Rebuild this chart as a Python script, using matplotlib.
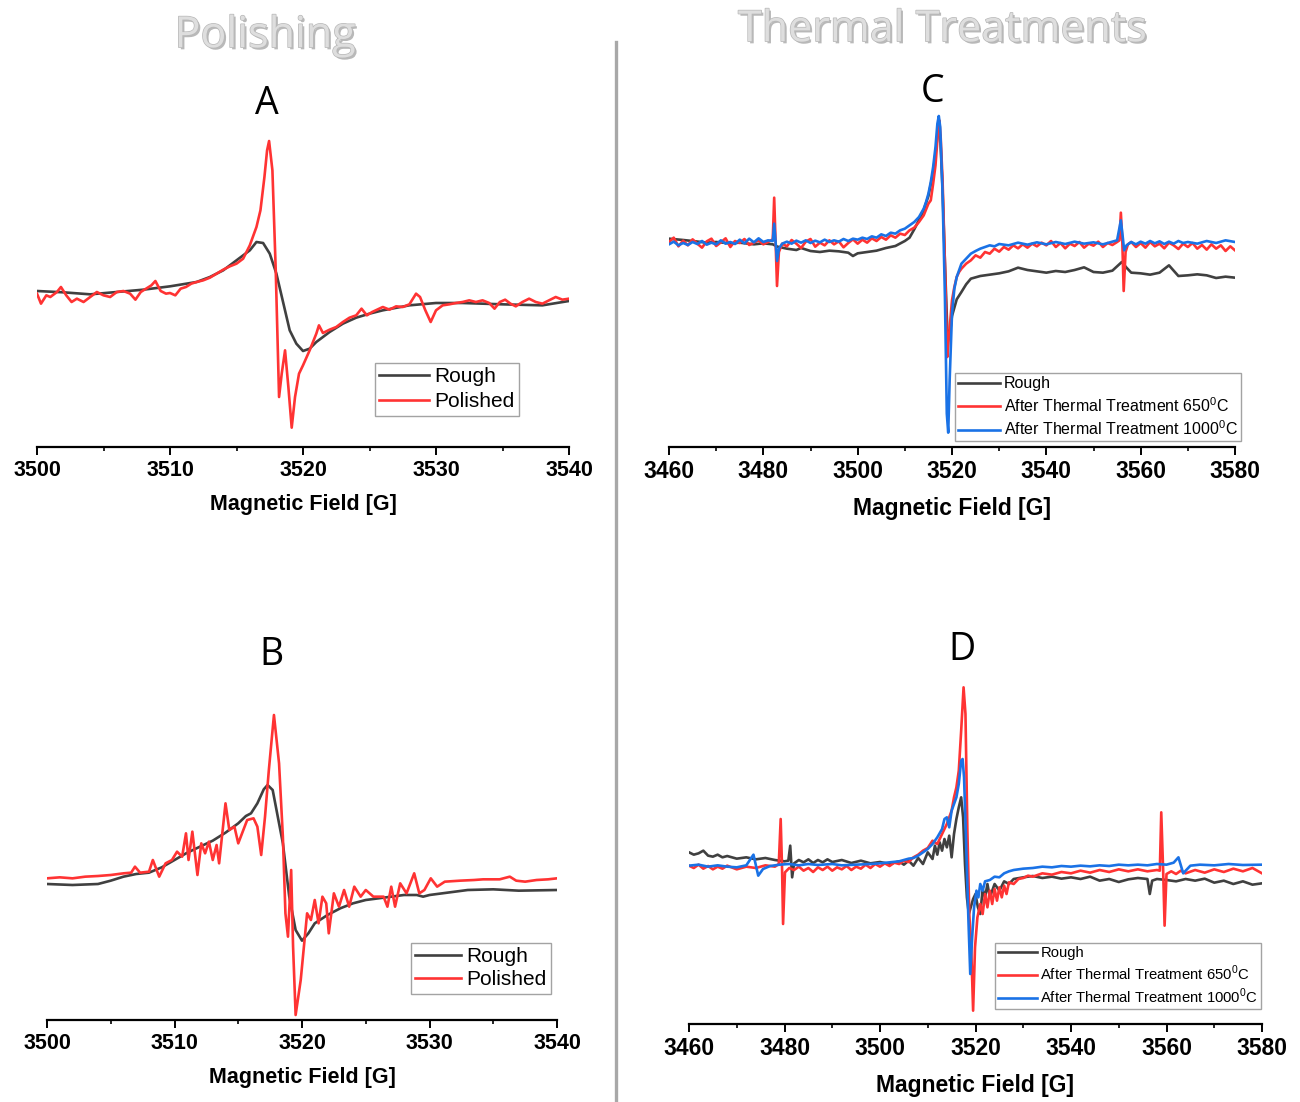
import matplotlib
matplotlib.use("Agg")
import matplotlib.pyplot as plt
import matplotlib.patheffects as pe
from matplotlib.lines import Line2D
from matplotlib.ticker import MultipleLocator

plt.rcParams['font.family'] = ['Liberation Sans', 'DejaVu Sans']
plt.rcParams['mathtext.fontset'] = 'custom'
plt.rcParams['mathtext.rm'] = 'Liberation Sans'

W, H = 1300, 1102

# ---- data (arbitrary intensity units) ----
# panel A
a_rough_x = [3500, 3502, 3504, 3506, 3508, 3510, 3512, 3513, 3514, 3515, 3516, 3516.5,
             3517, 3517.5, 3518, 3518.5, 3519, 3519.5, 3520, 3520.5, 3521, 3522, 3523,
             3524, 3525, 3526, 3528, 3530, 3532, 3535, 3538, 3540]
a_rough_y = [46.8, 46.4, 45.8, 46.5, 47.2, 48.2, 49.5, 51.0, 53.0, 56.0, 59.0, 61.5,
             61.2, 58.0, 52.0, 43.5, 35.0, 31.0, 28.8, 29.5, 31.5, 34.5, 37.0,
             38.8, 40.0, 41.0, 42.5, 43.2, 43.2, 42.8, 42.5, 43.8]
a_pol_x = [3500, 3500.3, 3500.7, 3501, 3501.5, 3501.8, 3502.2, 3502.6, 3503, 3503.5,
           3504, 3504.5, 3505, 3505.5, 3506, 3506.5, 3507, 3507.4, 3507.8, 3508.2,
           3508.6, 3508.9, 3509.3, 3509.7, 3510, 3510.4, 3510.8, 3511.2, 3511.6, 3512,
           3512.5, 3513, 3513.5, 3514, 3514.5, 3515, 3515.5, 3516, 3516.5, 3516.8,
           3517.1, 3517.3, 3517.45, 3517.7, 3517.95, 3518.2, 3518.4, 3518.65, 3518.9,
           3519.15, 3519.4, 3519.7, 3520, 3520.5, 3521, 3521.2, 3521.5, 3522, 3522.5,
           3523, 3523.5, 3524, 3524.4, 3524.8, 3525.2, 3526, 3526.5, 3527, 3527.5,
           3528, 3528.5, 3528.8, 3529.2, 3529.6, 3530, 3530.5, 3531, 3531.5, 3532,
           3532.5, 3533, 3533.5, 3534, 3534.4, 3534.8, 3535.2, 3535.6, 3536, 3536.5,
           3537, 3537.5, 3538, 3538.5, 3539, 3539.5, 3540]
a_pol_y = [46.0, 43.0, 45.5, 45.0, 46.5, 48.0, 45.5, 43.5, 44.5, 43.5,
           45.0, 46.5, 45.5, 45.0, 46.5, 46.8, 46.0, 44.2, 46.5, 47.5,
           48.5, 49.8, 46.8, 46.0, 46.2, 45.5, 47.5, 48.0, 49.0, 49.5,
           50.0, 50.8, 52.0, 53.2, 54.2, 55.0, 56.5, 60.5, 66.0, 71.0,
           81.0, 89.0, 91.8, 83.0, 53.0, 15.0, 22.0, 29.0, 18.0,
           5.8, 15.0, 22.0, 24.5, 29.0, 34.0, 36.5, 34.2, 35.2, 36.0,
           37.5, 38.8, 39.5, 41.5, 39.5, 40.5, 42.0, 41.2, 42.2, 42.0,
           42.8, 46.0, 45.0, 41.0, 37.5, 41.0, 42.5, 42.8, 43.2, 43.5,
           44.0, 43.5, 44.0, 43.2, 41.5, 43.5, 44.2, 43.0, 42.2, 43.5,
           44.5, 43.5, 43.0, 44.0, 45.0, 44.2, 44.5]

# panel B
b_rough_x = [3500, 3502, 3504, 3505, 3506, 3507, 3508, 3509, 3510, 3511, 3512, 3513,
             3514, 3515, 3515.6, 3516, 3516.5, 3517, 3517.3, 3517.7, 3518, 3518.5, 3519,
             3519.5, 3520, 3520.5, 3521, 3522, 3523, 3524, 3525, 3526, 3527, 3528,
             3529, 3529.5, 3530, 3531, 3532, 3533, 3535, 3537, 3540]
b_rough_y = [40.8, 40.5, 40.8, 41.8, 43.0, 43.8, 44.2, 45.8, 48.0, 50.2, 52.0, 53.8,
             56.2, 59.0, 61.2, 62.0, 65.0, 69.2, 70.5, 69.0, 63.0, 53.0, 37.0,
             27.0, 23.8, 26.0, 29.0, 31.5, 33.5, 35.0, 36.0, 36.5, 37.0, 37.5,
             37.5, 37.0, 37.5, 38.0, 38.5, 39.0, 39.2, 38.8, 39.0]
b_pol_x = [3500, 3501, 3502, 3503, 3504, 3505, 3506, 3506.6, 3506.9, 3507.3, 3508,
           3508.3, 3508.8, 3509.3, 3509.8, 3510.2, 3510.6, 3510.9, 3511.1, 3511.4,
           3511.8, 3512.1, 3512.4, 3512.7, 3513.0, 3513.3, 3513.5, 3514.0, 3514.3,
           3514.7, 3515.0, 3515.3, 3515.7, 3516.2, 3516.5, 3516.8, 3517.1, 3517.4,
           3517.8, 3518.2, 3518.5, 3518.7, 3518.9, 3519.15, 3519.3, 3519.5, 3519.9,
           3520.4, 3520.7, 3521.0, 3521.3, 3521.6, 3521.9, 3522.1, 3522.5, 3522.9,
           3523.3, 3523.7, 3524.1, 3524.6, 3525.0, 3525.6, 3526.4, 3526.7, 3527.0,
           3527.3, 3527.7, 3528.2, 3528.8, 3529.2, 3529.6, 3530.1, 3530.6, 3531.2,
           3532.4, 3533.5, 3534.2, 3535.5, 3536.3, 3536.8, 3537.5, 3538.4, 3539.3, 3540]
b_pol_y = [42.5, 42.8, 42.5, 43.0, 43.2, 43.5, 44.0, 44.2, 46.0, 44.2, 44.5,
           48.0, 43.0, 47.0, 48.0, 50.5, 49.0, 56.0, 48.0, 56.5,
           43.5, 53.0, 50.0, 53.5, 48.0, 52.5, 47.0, 65.0, 57.0,
           58.0, 53.0, 56.0, 60.0, 60.5, 58.0, 49.5, 61.0, 75.0,
           91.5, 77.0, 55.0, 32.0, 25.0, 45.0, 22.0, 1.5, 12.0,
           32.0, 30.0, 36.0, 29.0, 37.0, 35.0, 26.0, 38.0, 34.0,
           39.0, 34.0, 40.0, 37.0, 39.0, 37.0, 37.0, 34.0, 40.0,
           34.0, 41.0, 38.0, 44.0, 38.0, 39.0, 42.5, 40.0, 41.5,
           41.8, 42.0, 42.2, 42.2, 43.0, 41.8, 41.5, 42.0, 42.2, 42.5]

# panel C
c_rough_x = [3460, 3463, 3465, 3468, 3470, 3473, 3475, 3478, 3480, 3482, 3483, 3485,
             3487, 3488, 3490, 3492, 3494, 3496, 3498, 3499, 3500, 3502, 3504, 3506,
             3508, 3510, 3511, 3512, 3513, 3514, 3515, 3516, 3516.6, 3517.1, 3517.5,
             3518, 3518.5, 3519, 3519.5, 3520, 3521, 3522, 3523, 3524, 3526, 3528,
             3530, 3532, 3534, 3536, 3538, 3540, 3542, 3544, 3546, 3548, 3550, 3552,
             3554, 3556, 3557, 3558, 3560, 3562, 3564, 3566, 3568, 3570, 3572, 3574,
             3576, 3578, 3580]
c_rough_y = [62.5, 62.1, 61.8, 61.3, 61.5, 61.1, 61.3, 60.8, 61.1, 60.8, 60.1, 59.5,
             59.1, 59.7, 58.8, 58.5, 58.9, 58.7, 58.3, 57.3, 58.1, 58.5, 58.9, 59.7,
             60.3, 61.8, 62.8, 65.3, 68.1, 71.1, 75.3, 82.3, 89.3, 95.3, 93.3,
             77.3, 55.3, 35.3, 33.3, 39.3, 44.3, 46.5, 48.8, 50.5, 51.3, 51.7,
             52.1, 52.7, 53.8, 53.1, 52.7, 52.3, 52.8, 52.5, 53.1, 53.9, 52.5, 52.3,
             52.9, 55.5, 53.8, 52.3, 52.1, 51.7, 52.3, 54.5, 51.3, 51.5, 51.8, 51.5,
             50.7, 51.1, 50.8]
c_650_x = [3460, 3461, 3462, 3463, 3464, 3465, 3466, 3467, 3468, 3469, 3470, 3471,
           3472, 3473, 3474, 3475, 3476, 3477, 3478, 3479, 3480, 3481, 3482, 3482.3,
           3482.6, 3482.9, 3483.3, 3484, 3485, 3486, 3487, 3488, 3489, 3490, 3491,
           3492, 3493, 3494, 3495, 3496, 3497, 3498, 3499, 3500, 3501, 3502, 3503,
           3504, 3505, 3506, 3507, 3508, 3509, 3510, 3511, 3512, 3513, 3514, 3515,
           3515.5, 3516, 3516.5, 3517, 3517.3, 3517.6, 3518, 3518.5, 3519, 3519.4,
           3520, 3520.5, 3521, 3521.5, 3522, 3523, 3524, 3525, 3526, 3527, 3528,
           3529, 3530, 3531, 3532, 3533, 3534, 3535, 3536, 3537, 3538, 3539, 3540,
           3541, 3542, 3543, 3544, 3545, 3546, 3547, 3548, 3549, 3550, 3551, 3552,
           3553, 3554, 3555, 3555.5, 3555.8, 3556.1, 3556.4, 3556.8, 3557.3, 3558,
           3559, 3560, 3561, 3562, 3563, 3564, 3565, 3566, 3567, 3568, 3569, 3570,
           3571, 3572, 3573, 3574, 3575, 3576, 3577, 3578, 3579, 3580]
c_650_y = [61.5, 62.8, 60.2, 61.9, 60.5, 62.3, 61.0, 59.8, 61.7, 62.5, 60.3, 61.4,
           62.6, 60.0, 61.8, 61.2, 62.4, 60.6, 61.3, 62.0, 60.8, 61.5, 62.3, 74.8,
           62.0, 48.3, 58.5, 61.0, 60.2, 62.1, 61.0, 59.7, 61.6, 62.4, 60.1,
           61.3, 60.5, 62.0, 60.8, 61.7, 59.9, 61.2, 62.3, 61.0, 62.2, 61.3, 62.6,
           61.8, 63.0, 62.2, 63.5, 62.8, 64.0, 63.6, 65.0, 65.8, 67.5, 69.5, 73.0,
           74.0, 79.0, 84.5, 94.0, 98.0, 93.0, 80.0, 55.0, 27.0, 34.0,
           44.0, 48.0, 51.0, 52.5, 53.5, 55.0, 56.0, 57.5, 56.8, 58.5, 58.0,
           59.5, 58.6, 60.0, 59.2, 60.5, 59.6, 60.8, 59.8, 61.0, 60.2, 61.3, 60.5,
           61.8, 60.0, 61.2, 59.6, 61.0, 60.3, 61.5, 59.8, 61.0, 60.4, 61.6, 60.0,
           61.2, 60.6, 61.5, 62.0, 70.3, 62.0, 46.8, 58.5, 60.8, 61.5,
           60.0, 61.2, 59.8, 61.5, 60.2, 61.0, 59.6, 61.3, 60.5, 59.4, 61.0, 60.0,
           61.2, 59.5, 60.6, 59.2, 60.8, 59.5, 60.5, 58.8, 60.2, 59.0]
c_1000_x = [3460, 3461, 3462, 3463, 3464, 3465, 3466, 3467, 3468, 3469, 3470, 3471,
            3472, 3473, 3474, 3475, 3476, 3477, 3478, 3479, 3480, 3481, 3482, 3482.3,
            3482.6, 3482.9, 3483.3, 3484, 3485, 3486, 3487, 3488, 3489, 3490, 3491,
            3492, 3493, 3494, 3495, 3496, 3497, 3498, 3499, 3500, 3501, 3502, 3503,
            3504, 3505, 3506, 3507, 3508, 3509, 3510, 3511, 3512, 3513, 3514, 3514.5,
            3515, 3515.5, 3516, 3516.5, 3516.9, 3517.2, 3517.5, 3518, 3518.5, 3518.9,
            3519.2, 3519.5, 3520, 3520.5, 3521, 3521.5, 3522, 3523, 3524, 3525, 3526,
            3527, 3528, 3529, 3530, 3532, 3534, 3536, 3538, 3540, 3542, 3544, 3546,
            3548, 3550, 3552, 3554, 3555, 3555.8, 3556.2, 3556.5, 3557, 3558, 3559,
            3560, 3561, 3562, 3563, 3564, 3565, 3566, 3567, 3568, 3569, 3570, 3572,
            3574, 3576, 3578, 3580]
c_1000_y = [60.8, 61.6, 60.5, 61.2, 60.6, 61.5, 60.9, 61.8, 60.7, 61.3, 60.8, 62.0,
            61.0, 61.5, 60.9, 62.2, 61.1, 62.5, 61.4, 62.6, 61.5, 62.0, 61.8, 67.0,
            61.5, 55.8, 59.5, 61.0, 61.6, 61.0, 61.9, 61.3, 62.0, 61.2, 61.9,
            61.4, 62.2, 61.5, 62.0, 61.6, 62.4, 61.8, 62.5, 62.2, 62.8, 62.4, 63.2,
            62.8, 63.8, 63.3, 64.3, 64.0, 65.0, 65.5, 66.5, 67.5, 69.0, 71.5, 73.5,
            76.0, 79.5, 84.0, 90.0, 97.0, 99.3, 96.0, 76.0, 45.0, 10.0,
            4.3, 20.0, 40.0, 47.5, 51.0, 53.0, 55.0, 56.5, 58.0, 58.8, 59.5,
            60.0, 60.5, 60.2, 60.9, 60.5, 61.3, 60.7, 61.4, 60.8, 61.5, 60.9, 61.6,
            61.0, 61.4, 60.8, 61.6, 62.0, 68.0, 63.0, 59.0, 60.5, 61.5, 60.8,
            61.6, 61.0, 61.8, 61.1, 61.7, 60.9, 61.6, 61.0, 61.8, 61.2, 61.5, 61.0,
            61.8, 61.2, 62.0, 61.5]

# panel D
d_rough_x = [3460, 3461, 3462, 3463, 3464, 3465, 3466, 3467, 3468, 3470, 3472, 3474,
             3476, 3478, 3480, 3480.8, 3481.2, 3481.6, 3482, 3483, 3484, 3485, 3486,
             3487, 3488, 3489, 3490, 3492, 3494, 3496, 3498, 3500, 3502, 3504, 3505,
             3506, 3507, 3508, 3509, 3510, 3511, 3511.5, 3512, 3512.5, 3513, 3513.5,
             3514, 3514.5, 3515, 3515.5, 3516, 3516.5, 3517, 3517.4, 3517.8, 3518.2,
             3518.6, 3519, 3519.5, 3520, 3520.5, 3521, 3521.5, 3522, 3522.5, 3523,
             3524, 3525, 3526, 3527, 3528, 3530, 3532, 3534, 3536, 3538, 3540, 3542,
             3544, 3546, 3548, 3550, 3552, 3554, 3556, 3556.5, 3557, 3558, 3560, 3562,
             3564, 3566, 3568, 3570, 3572, 3574, 3576, 3578, 3580]
d_rough_y = [51.5, 50.8, 51.2, 52.0, 50.5, 50.2, 50.8, 50.0, 50.4, 49.6, 50.0, 49.4,
             49.8, 49.2, 48.8, 49.0, 53.5, 44.0, 48.2, 49.2, 48.5, 49.4, 48.3,
             49.2, 48.5, 49.4, 48.6, 49.2, 48.3, 49.0, 48.2, 48.6, 48.0, 48.8, 47.8,
             49.0, 47.5, 49.8, 48.0, 51.5, 49.5, 53.5, 50.8, 54.5, 52.0, 55.5,
             53.0, 56.5, 50.0, 57.0, 61.5, 65.0, 68.0, 62.0, 48.0, 38.0,
             33.0, 35.0, 37.5, 39.0, 35.0, 33.0, 40.5, 38.0, 42.0, 38.0,
             42.0, 40.0, 42.8, 42.0, 43.5, 44.0, 44.4, 43.8, 44.2, 43.6, 44.0, 43.5,
             44.2, 43.0, 43.5, 42.6, 43.4, 43.8, 43.5, 39.0, 43.0, 43.5, 43.2, 42.8,
             43.5, 43.0, 43.6, 42.4, 43.0, 42.0, 42.8, 41.8, 42.2]
d_650_x = [3460, 3461, 3462, 3463, 3464, 3465, 3466, 3467, 3468, 3470, 3472, 3474,
           3476, 3478, 3478.8, 3479.2, 3479.5, 3479.7, 3480.1, 3481, 3482, 3483, 3484,
           3485, 3486, 3487, 3488, 3489, 3490, 3491, 3492, 3493, 3494, 3495, 3496,
           3497, 3498, 3499, 3500, 3501, 3502, 3503, 3504, 3505, 3506, 3507, 3508,
           3509, 3510, 3511, 3512, 3513, 3514, 3515, 3515.5, 3516, 3516.5, 3517,
           3517.5, 3517.9, 3518.3, 3518.7, 3519.1, 3519.5, 3519.9, 3520.4, 3521,
           3521.5, 3522, 3522.5, 3523, 3523.5, 3524, 3524.5, 3525, 3525.5, 3526,
           3526.5, 3527, 3528, 3529, 3530, 3531, 3532, 3534, 3536, 3538, 3540, 3542,
           3544, 3546, 3548, 3550, 3552, 3554, 3556, 3558, 3558.6, 3558.9, 3559.3,
           3559.6, 3560, 3561, 3562, 3563, 3564, 3566, 3568, 3570, 3572, 3574, 3576,
           3578, 3580]
d_650_y = [47.5, 46.8, 47.8, 46.6, 47.4, 46.4, 47.2, 46.6, 47.5, 46.4, 47.2, 46.8,
           47.6, 47.2, 48.0, 61.5, 46.0, 30.0, 45.5, 46.8, 46.2, 47.2, 46.0,
           46.8, 45.6, 47.0, 46.2, 47.2, 46.0, 47.0, 46.4, 47.4, 46.2, 47.2, 46.6,
           47.8, 46.8, 48.0, 47.2, 48.2, 47.4, 48.4, 48.0, 49.0, 48.6, 50.0, 50.8,
           52.0, 52.8, 55.0, 54.0, 57.0, 60.0, 64.0, 68.0, 71.0, 76.0, 88.0,
           101.0, 93.0, 58.0, 33.0, 23.0, 4.0, 23.0, 32.0, 36.0,
           33.0, 39.0, 35.0, 40.0, 36.0, 40.5, 37.0, 41.0, 38.0, 41.5,
           39.0, 42.5, 42.0, 43.5, 43.8, 44.5, 44.2, 45.2, 44.8, 45.6, 45.2, 46.0,
           45.4, 46.2, 45.6, 46.4, 45.8, 46.4, 45.8, 46.2, 46.0, 63.5, 46.0,
           29.5, 45.0, 45.8, 45.0, 46.0, 45.2, 46.2, 45.4, 46.4, 45.6, 46.6, 45.8,
           46.8, 45.2]
d_1000_x = [3460, 3462, 3464, 3466, 3468, 3470, 3472, 3473.5, 3474.5, 3475.5, 3477,
            3479, 3481, 3483, 3485, 3487, 3490, 3492, 3495, 3498, 3500, 3502, 3504,
            3505, 3506, 3507, 3508, 3509, 3510, 3511, 3512, 3513, 3513.5, 3514,
            3514.5, 3515, 3515.5, 3516, 3516.5, 3517, 3517.3, 3517.6, 3518, 3518.5,
            3518.9, 3519.3, 3519.7, 3520.2, 3520.6, 3521, 3521.5, 3522, 3523, 3524,
            3525, 3526, 3527, 3528, 3530, 3532, 3534, 3536, 3538, 3540, 3542, 3544,
            3546, 3548, 3550, 3552, 3554, 3556, 3558, 3560, 3561.5, 3562.5, 3563.5,
            3565, 3567, 3570, 3573, 3576, 3580]
d_1000_y = [47.5, 47.8, 47.2, 47.6, 47.2, 47.0, 47.6, 50.8, 44.5, 46.5, 47.4,
            47.8, 48.0, 47.6, 48.0, 47.7, 48.0, 47.6, 47.8, 48.0, 48.2, 48.5, 48.8,
            49.2, 49.6, 49.8, 50.5, 51.5, 52.5, 54.0, 56.0, 58.5, 61.5, 62.0,
            59.0, 64.0, 66.0, 68.0, 72.0, 79.0, 79.5, 74.0, 56.0, 32.0,
            15.0, 26.0, 35.0, 40.0, 38.0, 42.0, 40.0, 42.8, 43.2, 44.2,
            44.0, 45.2, 45.8, 46.2, 46.6, 46.8, 47.2, 47.0, 47.4, 47.2, 47.5, 47.3,
            47.6, 47.4, 47.8, 47.6, 47.8, 47.6, 48.0, 47.8, 48.4, 50.0, 45.2,
            47.5, 47.8, 47.6, 48.0, 47.7, 47.8]

c_labels = ['Rough', 'After Thermal Treatment 650$^\\mathregular{0}$C',
            'After Thermal Treatment 1000$^\\mathregular{0}$C']
gray, red, blue = '#404040', '#ff3333', '#1a72e6'

fig = plt.figure(figsize=(W / 100, H / 100), dpi=100)


def make_ax(left, right, base, top_val, px_per_unit=10 / 3):
    h = top_val * px_per_unit
    ax = fig.add_axes([left / W, (H - base) / H, (right - left) / W, h / H])
    ax.set_ylim(0, top_val)
    for s in ('left', 'right', 'top'):
        ax.spines[s].set_visible(False)
    ax.spines['bottom'].set_linewidth(1.6)
    ax.set_yticks([])
    ax.tick_params(axis='x', which='major', direction='out', length=5.5, width=1.4, pad=4)
    ax.tick_params(axis='x', which='minor', direction='out', length=3, width=1.2)
    ax.patch.set_alpha(0)
    return ax


def legend(ax, handles_labels, x0, y0, size, spacing, hl=2.6):
    lg = ax.legend(*handles_labels, loc='upper left',
                   bbox_to_anchor=(x0 / W, 1 - y0 / H), bbox_transform=fig.transFigure,
                   borderaxespad=0, fontsize=size, frameon=True, fancybox=False,
                   handlelength=hl, handletextpad=0.25, borderpad=0.2,
                   labelspacing=spacing)
    lg.get_frame().set_edgecolor('#8c8c8c')
    lg.get_frame().set_linewidth(1.0)
    return lg


# A
axA = make_ax(37, 569, 447, 100)
l1, = axA.plot(a_rough_x, a_rough_y, color=gray, lw=1.9)
l2, = axA.plot(a_pol_x, a_pol_y, color=red, lw=1.9)
axA.set_xlim(3500, 3540)
axA.xaxis.set_major_locator(MultipleLocator(10))
axA.xaxis.set_minor_locator(MultipleLocator(5))
legend(axA, ([l1, l2], ['Rough', 'Polished']), 375, 363, 15, 0.3, hl=2.4)

# B
axB = make_ax(47, 557, 1020, 100)
l1, = axB.plot(b_rough_x, b_rough_y, color=gray, lw=1.9)
l2, = axB.plot(b_pol_x, b_pol_y, color=red, lw=1.9)
axB.set_xlim(3500, 3540)
axB.xaxis.set_major_locator(MultipleLocator(10))
axB.xaxis.set_minor_locator(MultipleLocator(5))
legend(axB, ([l1, l2], ['Rough', 'Polished']), 411, 943, 15, 0.2, hl=2.2)

# C
axC = make_ax(669, 1235, 447, 102)
l1, = axC.plot(c_rough_x, c_rough_y, color=gray, lw=1.9)
l2, = axC.plot(c_650_x, c_650_y, color=red, lw=1.9)
l3, = axC.plot(c_1000_x, c_1000_y, color=blue, lw=1.9)
axC.set_xlim(3460, 3580)
axC.xaxis.set_major_locator(MultipleLocator(20))
axC.xaxis.set_minor_locator(MultipleLocator(10))
legend(axC, ([l1, l2, l3], c_labels), 955, 373, 11.5, 0.3)

# D
axD = make_ax(689, 1262, 1024, 104)
l1, = axD.plot(d_rough_x, d_rough_y, color=gray, lw=1.9)
l2, = axD.plot(d_650_x, d_650_y, color=red, lw=1.9)
l3, = axD.plot(d_1000_x, d_1000_y, color=blue, lw=1.9)
axD.set_xlim(3460, 3580)
axD.xaxis.set_major_locator(MultipleLocator(20))
axD.xaxis.set_minor_locator(MultipleLocator(10))
legend(axD, ([l1, l2, l3], c_labels), 995, 943, 10.7, 0.25)

for ax, fs, lab_fs, lp in ((axA, 15.5, 15.5, 9), (axB, 15.5, 15.5, 9),
                           (axC, 16.5, 16.5, 10), (axD, 16.5, 16.5, 10)):
    for t in ax.get_xticklabels():
        t.set_fontsize(fs)
        t.set_fontweight('bold')
    ax.set_xlabel('Magnetic Field [G]', fontsize=lab_fs, fontweight='bold', labelpad=lp)

# panel letters
for letter, x, y in (('A', 267, 104), ('B', 271, 655), ('C', 933, 92), ('D', 962, 650)):
    fig.text(x / W, 1 - y / H, letter, fontsize=27, family=['Open Sans', 'DejaVu Sans'],
             ha='center', va='center', color='black')

# headings
fx = [pe.SimplePatchShadow(offset=(1.5, -1.5), shadow_rgbFace='#808080', alpha=0.55),
      pe.Stroke(linewidth=1.0, foreground='#b8b8b8'), pe.Normal()]
for txt, x, y in (('Polishing', 265, 36), ('Thermal Treatments', 942, 30)):
    fig.text(x / W, 1 - y / H, txt, fontsize=31, family=['Open Sans', 'DejaVu Sans'],
             ha='center', va='center', color='#dedede', path_effects=fx)

# divider
fig.add_artist(Line2D([616 / W, 616 / W], [0, 1 - 42 / H], color='#a8a8a8', lw=2.4))

fig.savefig('out.png', dpi=100)
